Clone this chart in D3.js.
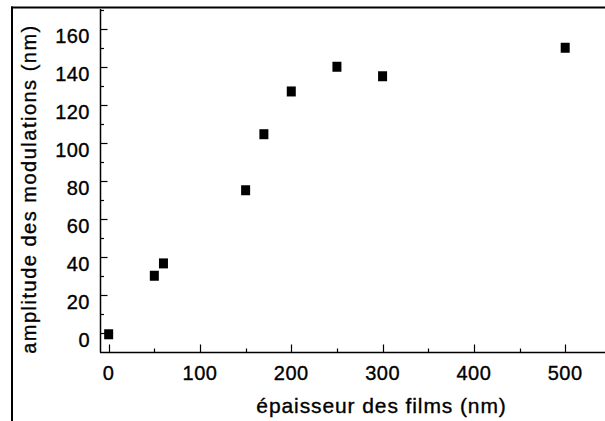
<!DOCTYPE html>
<html>
<head>
<meta charset="utf-8">
<script src="https://cdn.jsdelivr.net/npm/d3@7"></script>
<style>
  html, body { margin: 0; padding: 0; background: #fff; }
  svg { display: block; font-family: "Liberation Sans", Arial, Helvetica, sans-serif; }
  text { fill: #000; stroke: #000; stroke-width: 0.35px; }
</style>
</head>
<body>
<svg id="chart" width="605" height="421"></svg>
<script>
// ---- data ----
const thickness = [0, 50, 60, 150, 170, 200, 250, 300, 500];
const amplitude = [-0.8, 30, 36.5, 75, 104.5, 127, 140, 135, 150];
const xTickValues = [0, 100, 200, 300, 400, 500];
const yTickValues = [0, 20, 40, 60, 80, 100, 120, 140, 160];
const xLabel = "épaisseur des films (nm)";
const yLabel = "amplitude des modulations (nm)";

const svg = d3.select("#chart");
const W = 605, H = 421;

// frame (top and left edges)
svg.append("line").attr("x1", 11).attr("x2", W).attr("y1", 7.5).attr("y2", 7.5)
  .attr("stroke", "#000").attr("stroke-width", 2);
svg.append("line").attr("x1", 12).attr("x2", 12).attr("y1", 6.5).attr("y2", H)
  .attr("stroke", "#000").attr("stroke-width", 2);

const x = d3.scaleLinear().domain([-9.5, 543.6]).range([100, 605]);
const y = d3.scaleLinear().domain([-10.5, 170.4]).range([352.7, 9]);

const axisY0 = 352.5, axisX0 = 100.5;

// x axis line
svg.append("line").attr("x1", 100).attr("x2", W).attr("y1", axisY0).attr("y2", axisY0)
  .attr("stroke", "#000").attr("stroke-width", 1.5);
// y axis line
svg.append("line").attr("x1", axisX0).attr("x2", axisX0).attr("y1", 9).attr("y2", axisY0)
  .attr("stroke", "#000").attr("stroke-width", 1.5);

// x ticks (inward)
const xMinor = d3.range(50, 550, 100);
svg.append("g").selectAll("line").data(xTickValues).join("line")
  .attr("x1", d => Math.round(x(d)) + 0.5).attr("x2", d => Math.round(x(d)) + 0.5)
  .attr("y1", axisY0).attr("y2", axisY0 - 8).attr("stroke", "#000").attr("stroke-width", 1.2);
svg.append("g").selectAll("line").data(xMinor).join("line")
  .attr("x1", d => Math.round(x(d)) + 0.5).attr("x2", d => Math.round(x(d)) + 0.5)
  .attr("y1", axisY0).attr("y2", axisY0 - 4).attr("stroke", "#000").attr("stroke-width", 1.2);

// y ticks (inward)
const yMinor = d3.range(10, 180, 20);
svg.append("g").selectAll("line").data(yTickValues).join("line")
  .attr("x1", axisX0).attr("x2", axisX0 + 7)
  .attr("y1", d => Math.round(y(d)) + 0.5).attr("y2", d => Math.round(y(d)) + 0.5)
  .attr("stroke", "#000").attr("stroke-width", 1.2);
svg.append("g").selectAll("line").data(yMinor).join("line")
  .attr("x1", axisX0).attr("x2", axisX0 + 3.5)
  .attr("y1", d => Math.round(y(d)) + 0.5).attr("y2", d => Math.round(y(d)) + 0.5)
  .attr("stroke", "#000").attr("stroke-width", 1.2);

// tick labels
svg.append("g").selectAll("text").data(xTickValues).join("text")
  .attr("x", d => x(d)).attr("y", 380)
  .attr("text-anchor", "middle").attr("font-size", 20).attr("letter-spacing", 0.5)
  .text(d => d);
svg.append("g").selectAll("text").data(yTickValues).join("text")
  .attr("x", 90).attr("y", d => y(d) + 14.5)
  .attr("text-anchor", "end").attr("font-size", 20).attr("letter-spacing", 0.5)
  .text(d => d);

// axis titles
svg.append("text").attr("x", 381.5).attr("y", 413)
  .attr("text-anchor", "middle").attr("font-size", 21).attr("letter-spacing", 0.9)
  .text(xLabel);
svg.append("text").attr("transform", "translate(36,189) rotate(-90)")
  .attr("text-anchor", "middle").attr("font-size", 20).attr("letter-spacing", 1.5)
  .text(yLabel);

// markers
const pts = thickness.map((t, i) => ({ t, a: amplitude[i] }));
svg.append("g").selectAll("rect").data(pts).join("rect")
  .attr("x", d => x(d.t) - 4.5).attr("y", d => y(d.a) - 5)
  .attr("width", 9).attr("height", 10).attr("fill", "#000");
</script>
</body>
</html>
